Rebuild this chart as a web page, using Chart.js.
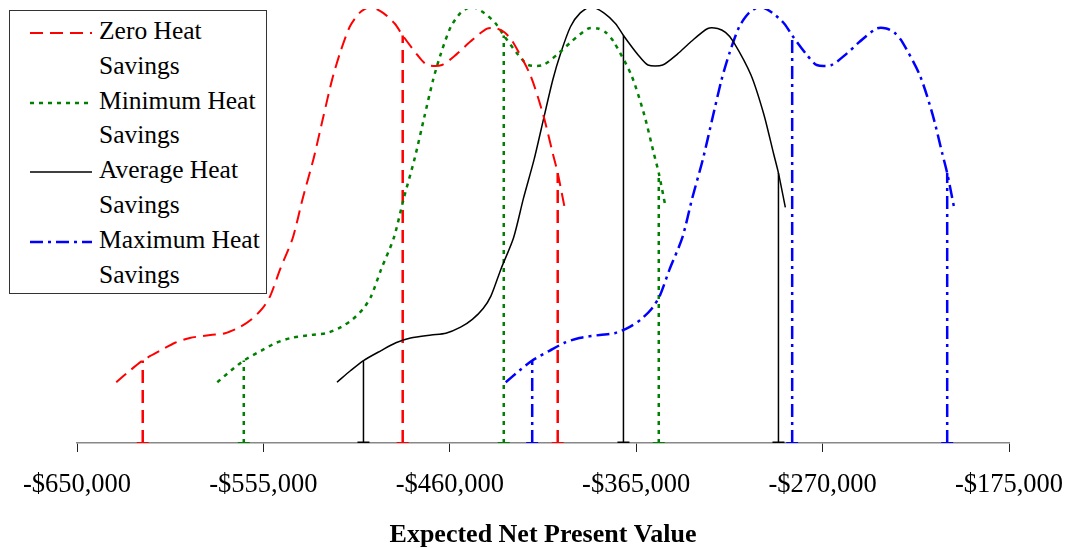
<!DOCTYPE html>
<html lang="en">
<head>
    <meta charset="UTF-8">
    <title>Expected Net Present Value</title>
    <style>
        body { margin: 0; background: white; }
        .wrap { position: relative; width: 1069px; height: 548px; }
        #legend { position: absolute; left: 9px; top: 10px; width: 256px; height: 282px; border: 1px solid #333; background: white; font-family: "Liberation Serif", "Times New Roman", serif; font-size: 25.5px; color: black; }
        .item { position: absolute; left: 0; height: 70px; width: 256px; }
        .item svg { position: absolute; left: 20px; top: 19px; }
        .item span { position: absolute; left: 89px; top: 3px; width: 165px; line-height: 34.5px; }
    </style>
    <script src="https://cdn.jsdelivr.net/npm/chart.js"></script>
</head>
<body>
    <div class="wrap">
        <canvas id="npvChart" width="1069" height="548"></canvas>
        <div id="legend"></div>
    </div>

    <script>
        // NPV distribution for each heat savings scenario
        const seriesNames = ['Zero Heat Savings', 'Minimum Heat Savings', 'Average Heat Savings', 'Maximum Heat Savings'];
        const seriesColors = ['#ff0000', '#008000', '#000000', '#0000ff'];
        const seriesDash = [[13, 7], [4, 5], [], [13, 5, 3, 5]];
        const seriesWidth = [2, 2.5, 1.5, 2.5];

        // relative frequency, same profile for every scenario
        const frequency = [0.140, 0.167, 0.190, 0.213, 0.231, 0.242, 0.249, 0.253, 0.267, 0.285,
            0.310, 0.339, 0.400, 0.473, 0.563, 0.654, 0.751, 0.837, 0.898, 0.959,
            0.991, 1.005, 0.991, 0.966, 0.939, 0.894, 0.871, 0.871, 0.896, 0.925,
            0.955, 0.955, 0.946, 0.925, 0.848, 0.758, 0.667, 0.622, 0.543];

        const zeroNpv = [-630000, -623000, -616500, -607500, -600000, -592500, -582000, -574500, -567000, -561000,
            -555500, -551500, -546500, -540000, -535000, -529500, -524500, -520000, -516000, -511000,
            -506000, -500500, -494000, -488000, -484000, -476500, -471500, -464000, -456500, -449500,
            -441000, -436000, -432000, -428000, -419000, -412500, -407500, -405000, -401500];
        const minNpv = [-578500, -571500, -565000, -556000, -548500, -541000, -530500, -523000, -515500, -509500,
            -504000, -500000, -495000, -488500, -483500, -478000, -473000, -468500, -464500, -459500,
            -454500, -449000, -442500, -436500, -432500, -425000, -420000, -412500, -405000, -398000,
            -389500, -384500, -380500, -376500, -367500, -361000, -356000, -353500, -350000];
        const avgNpv = [-517500, -510500, -504000, -495000, -487500, -480000, -469500, -462000, -454500, -448500,
            -443000, -439000, -434000, -427500, -422500, -417000, -412000, -407500, -403500, -398500,
            -393500, -388000, -381500, -375500, -371500, -364000, -359000, -351500, -344000, -337000,
            -328500, -323500, -319500, -315500, -306500, -300000, -295000, -292500, -289000];
        const maxNpv = [-431500, -424500, -418000, -409000, -401500, -394000, -383500, -376000, -368500, -362500,
            -357000, -353000, -348000, -341500, -336500, -331000, -326000, -321500, -317500, -312500,
            -307500, -302000, -295500, -289500, -285500, -278000, -273000, -265500, -258000, -251000,
            -242500, -237500, -233500, -229500, -220500, -214000, -209000, -206500, -203000];

        // percentile markers (low, expected, high) and their heights
        const zeroMarks = [-616500, -484000, -405000];
        const minMarks = [-565000, -432500, -353500];
        const avgMarks = [-504000, -371500, -292500];
        const maxMarks = [-418000, -285500, -206500];
        const markHeights = [0.190, 0.939, 0.622];

        const axisTicks = [-650000, -555000, -460000, -365000, -270000, -175000];

        const npvSeries = [zeroNpv, minNpv, avgNpv, maxNpv];
        const markSeries = [zeroMarks, minMarks, avgMarks, maxMarks];

        let datasets = [];
        npvSeries.forEach((xs, s) => {
            datasets.push({
                label: seriesNames[s],
                data: xs.map((x, i) => ({ x: x, y: frequency[i] })),
                borderColor: seriesColors[s],
                borderDash: seriesDash[s],
                borderWidth: seriesWidth[s],
                pointRadius: 0,
                tension: 0.25,
                fill: false
            });
        });
        markSeries.forEach((xs, s) => {
            let pts = [], radii = [];
            xs.forEach((x, i) => {
                pts.push({ x: x, y: 0 }, { x: x, y: markHeights[i] }, { x: x, y: null });
                radii.push(6, 0, 0);
            });
            datasets.push({
                label: seriesNames[s] + ' markers',
                data: pts,
                borderColor: seriesColors[s],
                borderDash: seriesDash[s],
                borderWidth: s == 2 ? 1.5 : 2.5,
                pointStyle: 'line',
                pointRadius: radii,
                pointBorderColor: seriesColors[s],
                pointBorderWidth: s == 2 ? 3 : 2,
                tension: 0,
                spanGaps: false
            });
        });

        const serif = '"Liberation Serif", "Times New Roman", serif';

        new Chart(document.getElementById('npvChart'), {
            type: 'line',
            data: { datasets: datasets },
            options: {
                responsive: false,
                animation: false,
                layout: { padding: { left: 77, right: 60, top: 0, bottom: 0 } },
                plugins: { legend: { display: false }, tooltip: { enabled: false } },
                scales: {
                    x: {
                        type: 'linear',
                        min: axisTicks[0],
                        max: axisTicks[axisTicks.length - 1],
                        afterBuildTicks: (scale) => { scale.ticks = axisTicks.map(v => ({ value: v })); },
                        // last label only needs half its width past the axis end
                        afterFit: (scale) => { scale.paddingRight = 56; scale.paddingLeft = 56; },
                        ticks: {
                            padding: 17,
                            maxRotation: 0,
                            color: '#000',
                            font: { family: serif, size: 26.5 },
                            callback: (v) => '-$' + Math.abs(v).toLocaleString('en-US')
                        },
                        grid: { drawOnChartArea: false, drawTicks: true, tickLength: 9, tickColor: '#222', tickWidth: 1 },
                        border: { display: true, color: '#888', width: 1.5 },
                        title: {
                            display: true,
                            text: 'Expected Net Present Value',
                            color: '#000',
                            font: { family: serif, size: 26, weight: 'bold', lineHeight: 1.0 },
                            padding: { top: 4.2, bottom: 0 }
                        }
                    },
                    y: { type: 'linear', min: 0, max: 1, display: false }
                }
            }
        });

        // legend box with line samples
        let legendHtml = '';
        seriesNames.forEach((name, s) => {
            const dash = seriesDash[s].length ? seriesDash[s].join(' ') : 'none';
            legendHtml += `<div class="item" style="top:${s * 69.7}px">
                <svg width="64" height="6"><line x1="0" y1="3" x2="62" y2="3" stroke="${seriesColors[s]}" stroke-width="${seriesWidth[s]}" stroke-dasharray="${dash}"/></svg>
                <span>${name}</span></div>`;
        });
        document.getElementById('legend').innerHTML = legendHtml;
    </script>
</body>
</html>
